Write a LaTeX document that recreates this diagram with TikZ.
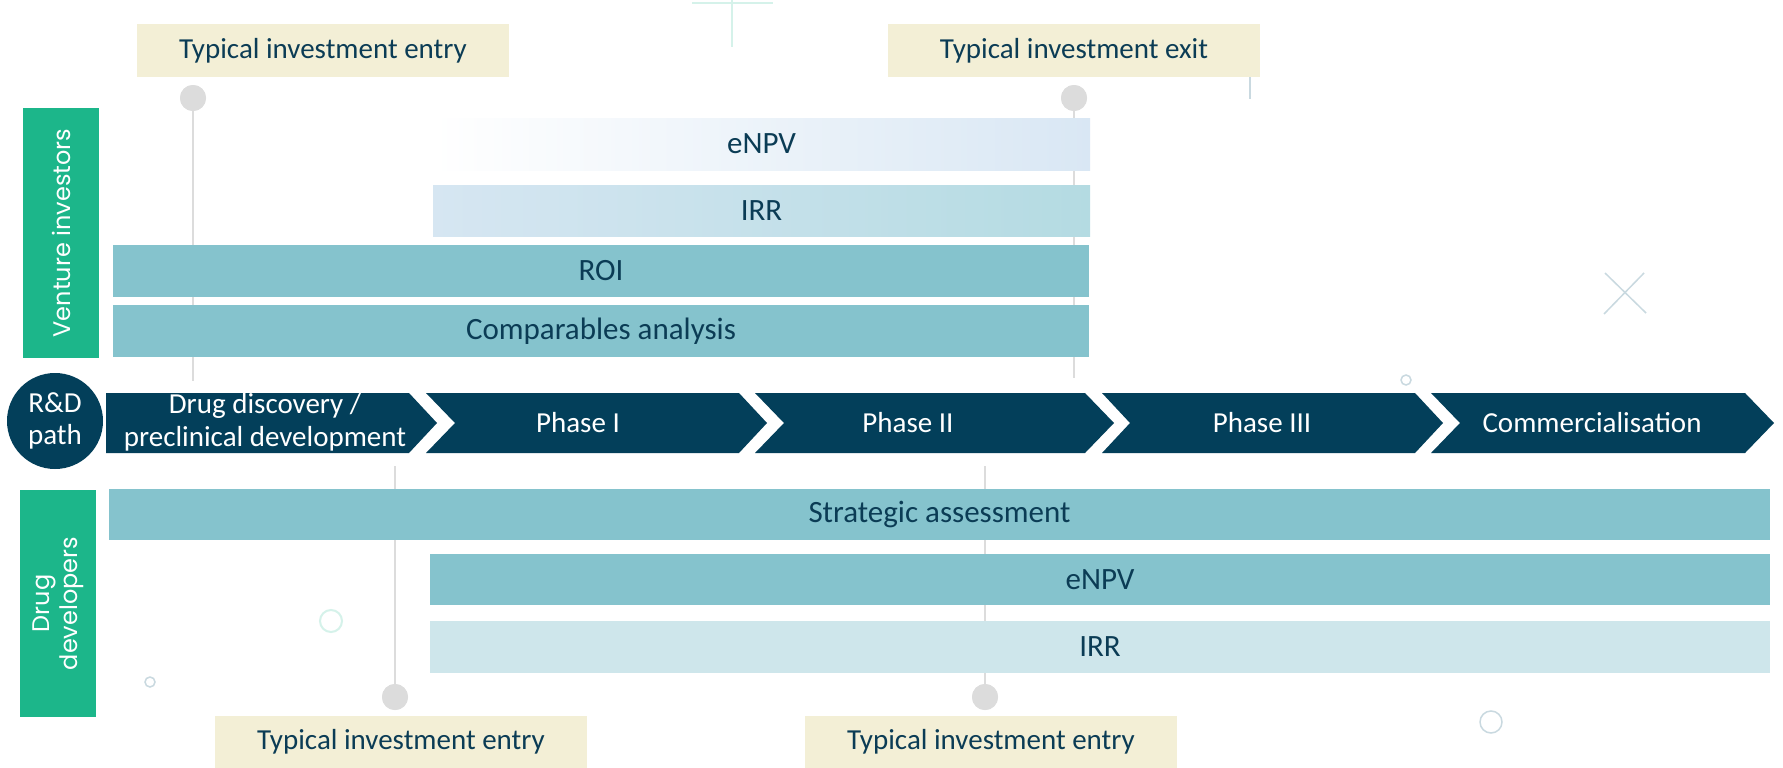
\documentclass[tikz,border=0pt]{standalone}
\usepackage{fontspec}
\setmainfont{Carlito}
\newfontfamily\geofont{Poppins}
\definecolor{navy}{HTML}{033F5A}
\definecolor{txt}{HTML}{0B3C55}
\definecolor{grn}{HTML}{1CB68A}
\definecolor{beige}{HTML}{F3EFD6}
\definecolor{barm}{HTML}{85C3CD}
\definecolor{irrL}{HTML}{D6E6F2}
\definecolor{irrR}{HTML}{B4DBE2}
\definecolor{enpvR}{HTML}{D9E7F4}
\definecolor{irrB}{HTML}{CEE6EB}
\definecolor{dotg}{HTML}{DCDCDC}
\definecolor{mint}{HTML}{D5F2EA}
\definecolor{decog}{HTML}{C9D9E0}
\begin{document}
\begin{tikzpicture}[x=1pt,y=-1pt,
  lbl/.style={rectangle, fill=beige, inner sep=0pt, minimum width=372pt, minimum height=53pt, text=txt, font=\fontsize{29}{33}\selectfont},
  bar/.style={rectangle, inner sep=0pt, minimum height=52pt, text=txt, font=\fontsize{31}{34}\selectfont},
  grp/.style={rectangle, fill=grn, inner sep=0pt, minimum width=76pt},
  grptext/.style={rotate=90, text=white, align=center, font=\geofont\fontsize{24}{28}\selectfont},
  dot/.style={circle, fill=dotg, inner sep=0pt, minimum size=26pt},
  vline/.style={draw=dotg, line width=2.5pt},
  chev/.style={fill=navy},
  chevtext/.style={text=white, font=\fontsize{29}{33}\selectfont, align=center},
  deco/.style={draw=decog, line width=1.8pt},
  decomint/.style={draw=mint, line width=2pt}]
\useasboundingbox (0,0) rectangle (1783,768);
\fill[white] (0,0) rectangle (1783,768);

% decorations
\draw[decomint] (692,3) -- (773,3);
\draw[decomint] (732,0) -- (732,47);
\draw[deco] (1250,77) -- (1250,99);
\draw[deco, line width=1.5pt] (1605,273) -- (1646,313);
\draw[deco, line width=1.5pt] (1644,273) -- (1604,314);
\draw[deco, line width=1.5pt] (1406,380) circle (5);
\draw[decomint] (331,621) circle (11);
\draw[deco, line width=1.5pt] (150,682) circle (5);
\draw[deco, line width=1.5pt] (1491,722) circle (11);

% timeline markers
\node[dot] (d1) at (193,98) {};
\node[dot] (d2) at (1074,98) {};
\node[dot] (d3) at (395,697) {};
\node[dot] (d4) at (985,697) {};
\coordinate (e1) at (193,381);
\coordinate (e2) at (1074,378);
\coordinate (e3) at (395,466);
\coordinate (e4) at (985,466);
\draw[vline] (d1.center) -- (e1);
\draw[vline] (d2.center) -- (e2);
\draw[vline] (d3.center) -- (e3);
\draw[vline] (d4.center) -- (e4);
\node[dot] at (193,98) {};
\node[dot] at (1074,98) {};
\node[dot] at (395,697) {};
\node[dot] at (985,697) {};

% labels
\node[lbl] (tentry) at (323,50.5) {Typical investment entry};
\node[lbl] (texit) at (1074,50.5) {Typical investment exit};
\node[lbl, minimum height=52pt] (bentry1) at (401,742) {Typical investment entry};
\node[lbl, minimum height=52pt] (bentry2) at (991,742) {Typical investment entry};

% group bars
\node[grp, minimum height=250pt] (vi) at (61,233) {};
\node[grptext] at (vi.center) {Venture investors};
\node[grp, minimum height=227pt] (dd) at (58,603.5) {};
\node[grptext] at (dd.center) {Drug\\developers};

% venture investor bars
\node[bar, minimum width=657pt, shading=axis, left color=white, right color=enpvR] (venpv) at (761.5,144) {eNPV};
\node[bar, minimum width=657pt, minimum height=51pt, shading=axis, left color=irrL, right color=irrR] (virr) at (761.5,210.5) {IRR};
\node[bar, minimum width=976pt, fill=barm] (vroi) at (601,271) {ROI};
\node[bar, minimum width=976pt, fill=barm] (vcomp) at (601,331) {Comparables analysis};

% drug developer bars
\node[bar, minimum width=1661pt, minimum height=51pt, fill=barm] (dstrat) at (939.5,514.5) {Strategic assessment};
\node[bar, minimum width=1340pt, minimum height=51pt, fill=barm] (denpv) at (1100,579.5) {eNPV};
\node[bar, minimum width=1340pt, fill=irrB] (dirr) at (1100,647) {IRR};

% R&D path
\node[circle, fill=navy, minimum size=96pt, inner sep=0pt, text=white, align=center, font=\fontsize{29}{32}\selectfont] (rd) at (55,421) {R\&D\\path};
\fill[chev] (106,393) -- (409,393) -- (437,423) -- (409,453) -- (106,453) -- cycle;
\fill[chev] (426,393) -- (739,393) -- (767,423) -- (739,453) -- (426,453) -- (455,423) -- cycle;
\fill[chev] (755,393) -- (1085,393) -- (1114,423) -- (1085,453) -- (755,453) -- (784,423) -- cycle;
\fill[chev] (1102,393) -- (1415,393) -- (1443,423) -- (1415,453) -- (1102,453) -- (1130,423) -- cycle;
\fill[chev] (1431,393) -- (1745,393) -- (1774,423) -- (1745,453) -- (1431,453) -- (1460,423) -- cycle;
\node[chevtext] (c1) at (265,422) {Drug discovery /\\preclinical development};
\node[chevtext] (c2) at (578,423) {Phase I};
\node[chevtext] (c3) at (908,423) {Phase II};
\node[chevtext] (c4) at (1262,423) {Phase III};
\node[chevtext] (c5) at (1592,423) {Commercialisation};
\end{tikzpicture}
\end{document}
